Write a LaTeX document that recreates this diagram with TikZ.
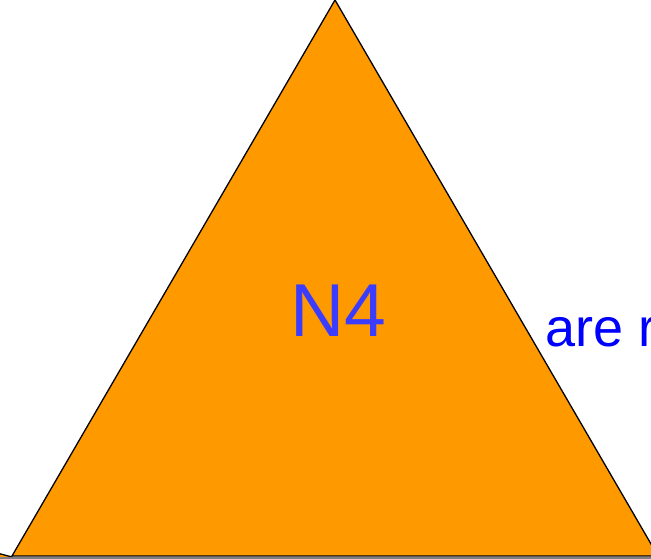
\documentclass[tikz,border=0pt]{standalone}
\usepackage{fontspec}
\setmainfont{Liberation Sans}
\definecolor{tri}{HTML}{FF9900}
\definecolor{lbl}{HTML}{3C3CFF}
\definecolor{txt}{HTML}{0000FF}
\begin{document}
\begin{tikzpicture}[x=1pt,y=1pt,
  tribox/.style={fill=tri,draw=black,line width=1.3pt,line join=miter}]
\useasboundingbox (0,0) rectangle (651,559);
\clip (0,0) rectangle (651,559);
\fill[white] (0,0) rectangle (651,559);
% partial neighbour shape at bottom-left
\filldraw[fill=tri,draw=black,line width=1.3pt] (-60,21) -- (12,2) -- (12,-10) -- (-60,-10) -- cycle;
% grey line under base
\draw[gray,line width=1.5pt] (0,0.8) -- (651,0.8);
% main triangle
\node[coordinate] (apex) at (335,559) {};
\node[coordinate] (bl) at (12,3) {};
\node[coordinate] (br) at (658,3) {};
\filldraw[tribox] (apex) -- (br) -- (bl) -- cycle;
\node[anchor=base,text=lbl,font=\fontsize{75}{80}\selectfont,inner sep=0pt] (n4) at (338,222) {N4};
\node[anchor=base west,text=txt,font=\fontsize{54}{60}\selectfont,inner sep=0pt] (are) at (545,212) {are r};
\end{tikzpicture}
\end{document}
